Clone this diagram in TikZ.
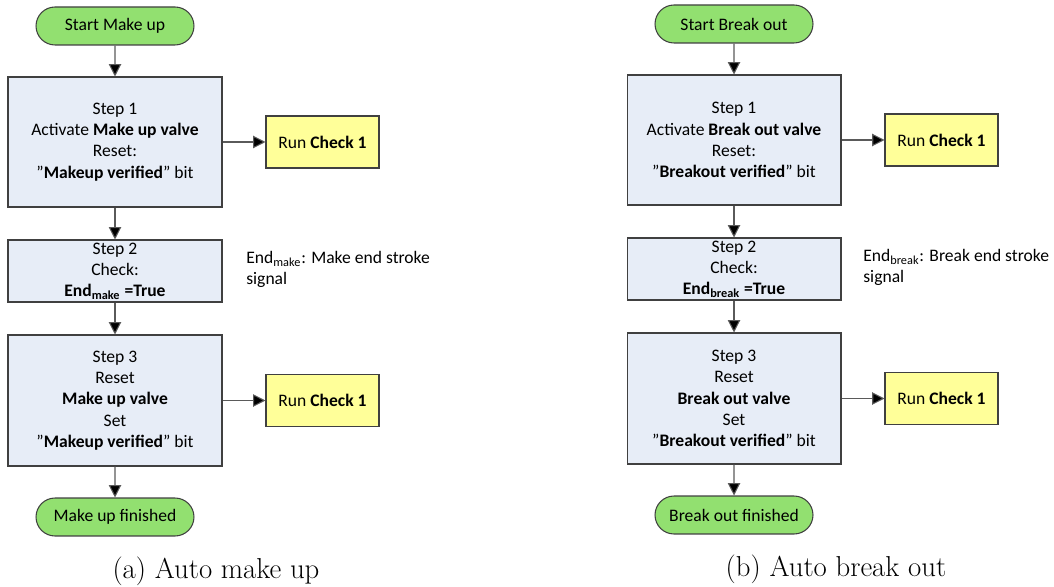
\documentclass[tikz,border=0pt]{standalone}
\usepackage{fontspec}
\setmainfont{Carlito}
\newfontfamily\capfont{Latin Modern Roman}
\usepackage{xcolor}
\usetikzlibrary{arrows.meta,shapes.misc}
\definecolor{pill}{HTML}{92E070}
\definecolor{stepbg}{HTML}{E7EDF7}
\definecolor{chk}{HTML}{FFFF99}
\definecolor{edge}{HTML}{404040}
\definecolor{wire}{HTML}{5A5A5A}
\tikzset{
  term/.style={rounded rectangle, draw=edge, fill=pill, line width=0.6pt,
    minimum width=3.16cm, minimum height=0.76cm, inner sep=0pt, font=\flowfont},
  stepbox/.style={draw=edge, fill=stepbg, line width=0.6pt, minimum width=4.28cm,
    align=center, inner sep=0pt, font=\flowfont},
  runbox/.style={draw=edge, fill=chk, line width=0.6pt, minimum width=2.26cm,
    minimum height=1.04cm, inner sep=0pt, font=\flowfont},
  note/.style={anchor=north west, align=left, inner sep=0pt, font=\flowfont},
  subcap/.style={font=\capfont\fontsize{16.4}{19}\selectfont},
  flow/.style={draw=wire, line width=0.6pt, -{Triangle[length=7pt, width=7pt, fill=black]}}
}
\newcommand{\flowfont}{\fontsize{10}{12.1}\selectfont}
\newcommand{\qt}[1]{''\textbf{#1}''}

\begin{document}
\begin{tikzpicture}[x=0.02cm, y=-0.02cm]
  \useasboundingbox (0,0) rectangle (1054,587);
  % auto make up
  \node[term] (mkstart) at (115,26) {Start Make up};
  \node[stepbox, minimum height=2.6cm] (mkstep1) at (115,142)
    {Step 1\\Activate \textbf{Make up valve}\\Reset:\\\qt{Makeup verified} bit};
  \node[runbox] (mkcheck1) at (322.5,142) {Run \textbf{Check 1}};
  \node[stepbox, minimum height=1.24cm] (mkstep2) at (115,271)
    {Step 2\\Check:\\\textbf{End\textsubscript{make} =True}};
  \node[note] (mknote) at (246,251) {End\textsubscript{make}: Make end stroke\\signal};
  \node[stepbox, minimum height=2.62cm] (mkstep3) at (115,400.5)
    {Step 3\\Reset\\\textbf{Make up valve}\\Set\\\qt{Makeup verified} bit};
  \node[runbox] (mkcheck3) at (322.5,400.5) {Run \textbf{Check 1}};
  \node[term] (mkend) at (115,517) {Make up finished};
  \node[subcap] (mkcap) at (216,571) {(a) Auto make up};
  \draw[flow] (mkstart) -- (mkstep1);
  \draw[flow] (mkstep1) -- (mkcheck1);
  \draw[flow] (mkstep1) -- (mkstep2);
  \draw[flow] (mkstep2) -- (mkstep3);
  \draw[flow] (mkstep3) -- (mkcheck3);
  \draw[flow] (mkstep3) -- (mkend);
  % auto break out
  \begin{scope}[shift={(619,-2)}]
    \node[term] (bostart) at (115,26) {Start Break out};
    \node[stepbox, minimum height=2.6cm] (bostep1) at (115,142)
      {Step 1\\Activate \textbf{Break out valve}\\Reset:\\\qt{Breakout verified} bit};
    \node[runbox] (bocheck1) at (322.5,142) {Run \textbf{Check 1}};
    \node[stepbox, minimum height=1.24cm] (bostep2) at (115,271)
      {Step 2\\Check:\\\textbf{End\textsubscript{break} =True}};
    \node[note] (bonote) at (244,251) {End\textsubscript{break}: Break end stroke\\signal};
    \node[stepbox, minimum height=2.62cm] (bostep3) at (115,400.5)
      {Step 3\\Reset\\\textbf{Break out valve}\\Set\\\qt{Breakout verified} bit};
    \node[runbox] (bocheck3) at (322.5,400.5) {Run \textbf{Check 1}};
    \node[term] (boend) at (115,517) {Break out finished};
    \node[subcap] (bocap) at (217,571) {(b) Auto break out};
    \draw[flow] (bostart) -- (bostep1);
    \draw[flow] (bostep1) -- (bocheck1);
    \draw[flow] (bostep1) -- (bostep2);
    \draw[flow] (bostep2) -- (bostep3);
    \draw[flow] (bostep3) -- (bocheck3);
    \draw[flow] (bostep3) -- (boend);
  \end{scope}
\end{tikzpicture}
\end{document}
